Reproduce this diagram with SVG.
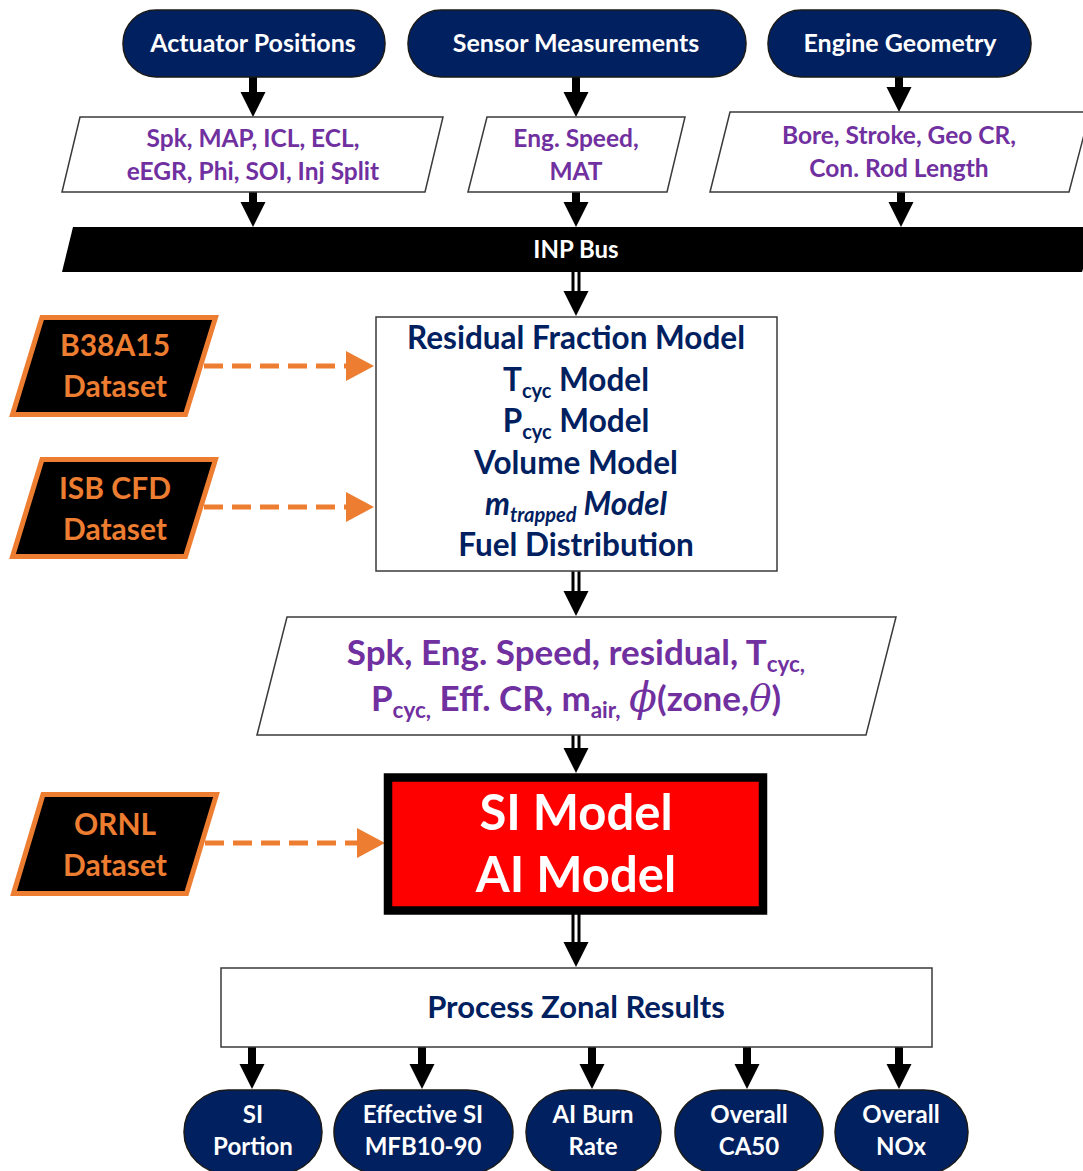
<svg xmlns="http://www.w3.org/2000/svg" width="1083" height="1171" viewBox="0 0 1083 1171">
<style>
text { font-family: Lato, "Open Sans", "Liberation Sans", sans-serif; font-weight: bold; text-anchor: middle; }
.pill { fill: #002060; stroke: #1a1a1a; stroke-width: 1.5; }
.wt { fill: #ffffff; }
.pg { fill: #ffffff; stroke: #3a3a3a; stroke-width: 1.5; }
.pu { fill: #7030A0; }
.nv { fill: #002060; }
.ds { fill: #000000; stroke: #ED7D31; stroke-width: 5; }
.or { fill: #ED7D31; }
.sh { stroke: #000; stroke-width: 8; fill: none; }
.dbl { stroke: #000; stroke-width: 9; fill: none; }
.dblw { stroke: #fff; stroke-width: 3; fill: none; }
.dash { stroke: #ED7D31; stroke-width: 5; stroke-dasharray: 19 9; fill: none; }
.t24 { font-size: 24px; }
.t25 { font-size: 25px; }
.t30 { font-size: 30px; }
.t31 { font-size: 31px; }
.t32 { font-size: 31.5px; }
.t35 { font-size: 35px; }
.math { font-family: "DejaVu Serif", "Liberation Serif", serif; font-style: italic; font-weight: normal; }
</style>
<defs>
<path id="hd" d="M-12.5,-25 L12.5,-25 L0,0 Z" fill="#000"/>
<path id="ohd" d="M-28,-15 L0,0 L-28,15 Z" fill="#ED7D31"/>
</defs>

<g id="connectors">
  <line class="sh" x1="253" y1="77" x2="253" y2="94"/><use href="#hd" x="253" y="117"/>
  <line class="sh" x1="576" y1="77" x2="576" y2="94"/><use href="#hd" x="576" y="117"/>
  <line class="sh" x1="899" y1="77" x2="899" y2="89"/><use href="#hd" x="899" y="112"/>
  <line class="sh" x1="253" y1="192" x2="253" y2="204"/><use href="#hd" x="253" y="227"/>
  <line class="sh" x1="576" y1="192" x2="576" y2="204"/><use href="#hd" x="576" y="227"/>
  <line class="sh" x1="901" y1="192" x2="901" y2="204"/><use href="#hd" x="901" y="227"/>
  <line class="dbl" x1="576" y1="272" x2="576" y2="292"/><line class="dblw" x1="576" y1="272" x2="576" y2="292"/><use href="#hd" x="576" y="316"/>
  <line class="dbl" x1="576" y1="571" x2="576" y2="592"/><line class="dblw" x1="576" y1="571" x2="576" y2="592"/><use href="#hd" x="576" y="616"/>
  <line class="dbl" x1="576" y1="735" x2="576" y2="749"/><line class="dblw" x1="576" y1="735" x2="576" y2="749"/><use href="#hd" x="576" y="773"/>
  <line class="dbl" x1="576" y1="914" x2="576" y2="943"/><line class="dblw" x1="576" y1="914" x2="576" y2="943"/><use href="#hd" x="576" y="967"/>
  <line class="sh" x1="252" y1="1047" x2="252" y2="1066"/><use href="#hd" x="252" y="1089"/>
  <line class="sh" x1="422" y1="1047" x2="422" y2="1066"/><use href="#hd" x="422" y="1089"/>
  <line class="sh" x1="592" y1="1047" x2="592" y2="1066"/><use href="#hd" x="592" y="1089"/>
  <line class="sh" x1="747" y1="1047" x2="747" y2="1066"/><use href="#hd" x="747" y="1089"/>
  <line class="sh" x1="899" y1="1047" x2="899" y2="1066"/><use href="#hd" x="899" y="1089"/>
  <line class="dash" x1="204" y1="366" x2="347" y2="366"/><use href="#ohd" x="374" y="366"/>
  <line class="dash" x1="204" y1="507" x2="347" y2="507"/><use href="#ohd" x="374" y="507"/>
  <line class="dash" x1="205" y1="843" x2="358" y2="843"/><use href="#ohd" x="385" y="843"/>
</g>

<g id="actuator-positions">
  <rect class="pill" x="123" y="10" width="262" height="67" rx="33" ry="33"/>
  <text class="wt t25" x="253" y="52">Actuator Positions</text>
</g>
<g id="sensor-measurements">
  <rect class="pill" x="408" y="10" width="338" height="67" rx="33" ry="33"/>
  <text class="wt t25" x="576" y="52">Sensor Measurements</text>
</g>
<g id="engine-geometry">
  <rect class="pill" x="768" y="10" width="263" height="67" rx="33" ry="33"/>
  <text class="wt t25" x="900" y="52">Engine Geometry</text>
</g>

<g id="actuator-values">
  <path class="pg" d="M80,117 L443,117 L425,192 L62,192 Z"/>
  <text class="pu" font-size="24.5" x="253" y="147">Spk, MAP, ICL, ECL,</text>
  <text class="pu" font-size="24.5" x="253" y="180">eEGR, Phi, SOI, Inj Split</text>
</g>
<g id="sensor-values">
  <path class="pg" d="M487,117 L685,117 L667,192 L468,192 Z"/>
  <text class="pu" font-size="24.5" x="576" y="147">Eng. Speed,</text>
  <text class="pu" font-size="24.5" x="576" y="180">MAT</text>
</g>
<g id="geometry-values">
  <path class="pg" d="M730,112 L1090,112 L1069,192 L710,192 Z"/>
  <text class="pu" font-size="24.5" x="899" y="144">Bore, Stroke, Geo CR,</text>
  <text class="pu" font-size="24.5" x="899" y="177">Con. Rod Length</text>
</g>

<g id="inp-bus">
  <path d="M73,227 L1096,227 L1082,272 L62,272 Z" fill="#000"/>
  <text class="wt t24" x="576" y="258">INP Bus</text>
</g>

<g id="b38a15-dataset">
  <path class="ds" d="M42,317.5 L215.5,317.5 L185.5,414.5 L12.5,414.5 Z"/>
  <text class="or t30" x="115" y="356">B38A15</text>
  <text class="or t30" x="115" y="397">Dataset</text>
</g>
<g id="isb-cfd-dataset">
  <path class="ds" d="M42,459.5 L215.5,459.5 L185.5,556.5 L12.5,556.5 Z"/>
  <text class="or t30" x="115" y="499">ISB CFD</text>
  <text class="or t30" x="115" y="540">Dataset</text>
</g>
<g id="ornl-dataset">
  <path class="ds" d="M43,794.5 L216.5,794.5 L186.5,893.5 L13.5,893.5 Z"/>
  <text class="or t30" x="115" y="835">ORNL</text>
  <text class="or t30" x="115" y="876">Dataset</text>
</g>

<g id="sub-models">
  <rect x="376" y="317" width="401" height="254" fill="#fff" stroke="#3a3a3a" stroke-width="1.5"/>
  <text class="nv t32" x="576" y="349">Residual Fraction Model</text>
  <text class="nv t32" x="576" y="391">T<tspan font-size="20" dy="7">cyc</tspan><tspan dy="-7"> Model</tspan></text>
  <text class="nv t32" x="576" y="432">P<tspan font-size="20" dy="7">cyc</tspan><tspan dy="-7"> Model</tspan></text>
  <text class="nv t32" x="576" y="474">Volume Model</text>
  <text class="nv t32" x="576" y="515" font-style="italic">m<tspan font-size="20" dy="7">trapped</tspan><tspan dy="-7"> Model</tspan></text>
  <text class="nv t32" x="576" y="556">Fuel Distribution</text>
</g>

<g id="model-inputs">
  <path class="pg" d="M287,617 L896,617 L866,735 L257,735 Z"/>
  <text class="pu t35" x="576" y="665">Spk, Eng. Speed, residual, T<tspan font-size="22.5" dy="7">cyc,</tspan></text>
  <text class="pu t35" x="576" y="711">P<tspan font-size="22.5" dy="7">cyc,</tspan><tspan dy="-7"> Eff. CR, m</tspan><tspan font-size="22.5" dy="7">air,</tspan><tspan dy="-7"> </tspan><tspan class="math" font-size="41">ϕ</tspan>(zone,<tspan class="math" font-size="37">θ</tspan>)</text>
</g>

<g id="si-ai-model">
  <rect x="388" y="777.5" width="375" height="133" fill="#FF0000" stroke="#000" stroke-width="8.5"/>
  <text class="wt" font-size="49" x="576" y="830">SI Model</text>
  <text class="wt" font-size="49" x="576" y="892">AI Model</text>
</g>

<g id="process-zonal-results">
  <rect x="221" y="968" width="711" height="79" fill="#fff" stroke="#3a3a3a" stroke-width="1.5"/>
  <text class="nv t31" x="576" y="1018">Process Zonal Results</text>
</g>

<g id="si-portion">
  <rect class="pill" x="184" y="1090" width="138" height="84" rx="44" ry="42"/>
  <text class="wt t24" x="253" y="1123">SI</text>
  <text class="wt t24" x="253" y="1155">Portion</text>
</g>
<g id="effective-si">
  <rect class="pill" x="334" y="1090" width="179" height="84" rx="46" ry="42"/>
  <text class="wt t24" x="423" y="1123">Effective SI</text>
  <text class="wt t24" x="423" y="1155">MFB10-90</text>
</g>
<g id="ai-burn-rate">
  <rect class="pill" x="526" y="1090" width="135" height="84" rx="44" ry="42"/>
  <text class="wt t24" x="593" y="1123">AI Burn</text>
  <text class="wt t24" x="593" y="1155">Rate</text>
</g>
<g id="overall-ca50">
  <rect class="pill" x="675" y="1090" width="148" height="84" rx="46" ry="42"/>
  <text class="wt t24" x="749" y="1123">Overall</text>
  <text class="wt t24" x="749" y="1155">CA50</text>
</g>
<g id="overall-nox">
  <rect class="pill" x="835" y="1090" width="133" height="84" rx="44" ry="42"/>
  <text class="wt t24" x="901" y="1123">Overall</text>
  <text class="wt t24" x="901" y="1155">NOx</text>
</g>
</svg>
